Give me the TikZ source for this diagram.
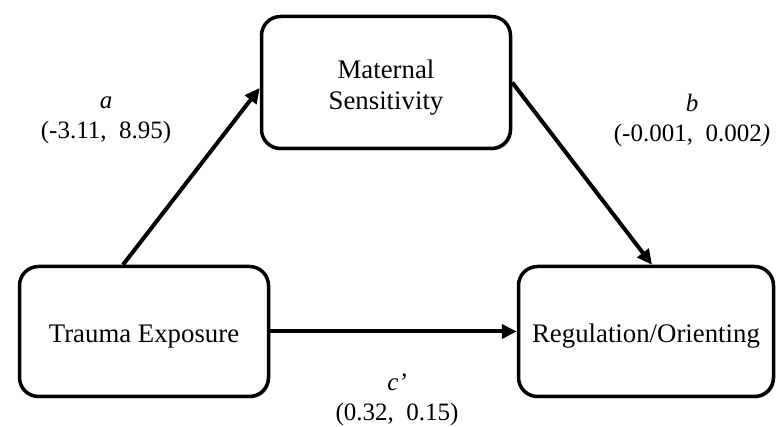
\documentclass[tikz,border=0pt]{standalone}
\usepackage{fontspec}
\setmainfont{Liberation Serif}
\usetikzlibrary{arrows.meta,shadows}
\newcommand{\bxtext}[1]{\raisebox{-5pt}[\height][\depth]{\begin{tabular}{@{}c@{}}#1\end{tabular}}}
\begin{document}
\begin{tikzpicture}[x=1pt,y=-1pt,
  box/.style={draw=black, line width=3.5pt, rounded corners=19pt, fill=white,
    align=center, inner sep=0pt, font=\fontsize{26.8}{31}\selectfont,
    drop shadow={shadow xshift=1.5pt, shadow yshift=-2pt, fill=black!45, opacity=0.6}},
  arr/.style={line width=4pt, -{Triangle[length=15pt,width=14pt]}},
  lbl/.style={align=center, font=\fontsize{25}{30}\selectfont, inner sep=0pt}]
\fill[white] (0,0) rectangle (777,427);
\useasboundingbox (0,0) rectangle (777,427);
\node[box, minimum width=249pt, minimum height=132pt] (M) at (386,82.5) {\bxtext{Maternal\\Sensitivity}};
\node[box, minimum width=249pt, minimum height=130pt] (T) at (144,331.5) {\bxtext{Trauma Exposure}};
\node[box, minimum width=255pt, minimum height=130pt] (R) at (646,331.5) {\bxtext{Regulation/Orienting}};
\draw[arr] ([xshift=-21pt]T.north) -- ([yshift=-5.5pt]M.west);
\draw[arr] (M.east) -- ([xshift=6pt]R.north);
\draw[arr] (T.east) -- (R.west);
\node[lbl] (la) at (106,120) {\textit{a}\\(-3.11,\ \ 8.95)};
\node[lbl] (lb) at (692,120) {\textit{b}\\(-0.001,\ \ 0.002\textit{)}};
\node[lbl] (lc) at (397,400) {\textit{c’}\\(0.32,\ \ 0.15)};
\end{tikzpicture}
\end{document}
